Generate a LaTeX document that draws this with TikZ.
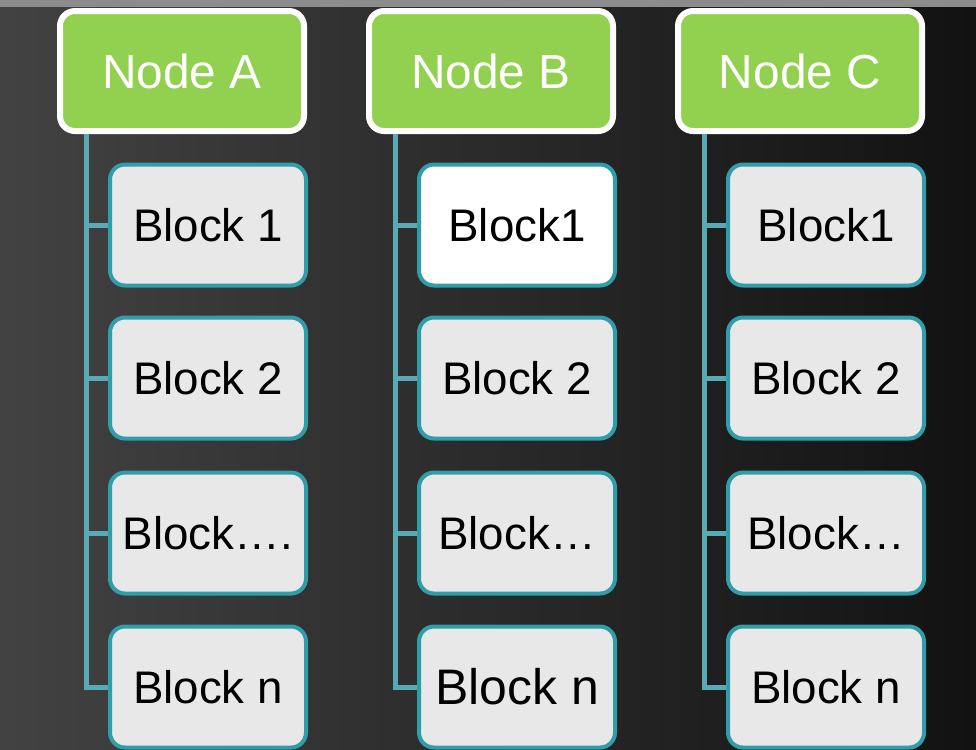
\documentclass[tikz,border=0pt]{standalone}
\usepackage{fontspec}
\setmainfont{Liberation Sans}
\usepackage{tikz}
\usepackage{xcolor}

\definecolor{leafgreen}{HTML}{92D050}
\definecolor{tealline}{HTML}{2F9DAA}
\definecolor{linkteal}{HTML}{5AAAB6}
\definecolor{blockgray}{HTML}{E8E8E8}

\tikzset{
    header/.style={draw=white, line width=0.06cm, fill=leafgreen, rounded corners=0.15cm,
        minimum width=2.44cm, minimum height=1.2cm, text=white,
        font=\fontsize{13.6}{16}\selectfont},
    block/.style={draw=tealline, line width=0.04cm, fill=blockgray, rounded corners=0.15cm,
        minimum width=1.96cm, minimum height=1.21cm, text=black,
        font=\fontsize{13}{15}\selectfont},
    link/.style={linkteal, line width=0.05cm}
}

\begin{document}
\begin{tikzpicture}
    % Backdrop
    \useasboundingbox (0,0) rectangle (9.76,-7.49);
    \fill [left color=black!74, right color=black!93] (0,0) rectangle (9.76,-7.49);
    \fill [black!45] (0,0) rectangle (9.76,-0.07);

    % Node A and its blocks
    \node [header] (A) at (1.82,-0.71) {Node A};
    \node [block] (A1) at (2.08,-2.25) {Block 1};
    \node [block] (A2) at (2.08,-3.78) {Block 2};
    \node [block] (A3) at (2.08,-5.33) {Block\dots.};
    \node [block] (A4) at (2.08,-6.87) {Block n};

    % Node B and its blocks
    \node [header] (B) at (4.91,-0.71) {Node B};
    \node [block,fill=white] (B1) at (5.17,-2.25) {Block1};
    \node [block] (B2) at (5.17,-3.78) {Block 2};
    \node [block] (B3) at (5.17,-5.33) {Block\dots};
    \node [block,font=\fontsize{14.2}{16}\selectfont] (B4) at (5.17,-6.87) {Block n};

    % Node C and its blocks
    \node [header] (C) at (8.00,-0.71) {Node C};
    \node [block] (C1) at (8.26,-2.25) {Block1};
    \node [block] (C2) at (8.26,-3.78) {Block 2};
    \node [block] (C3) at (8.26,-5.33) {Block\dots};
    \node [block] (C4) at (8.26,-6.87) {Block n};

    % Branches
    \draw [link] ([xshift=0.29cm]A.south west) |- (A1.west);
    \draw [link] ([xshift=0.29cm]A.south west) |- (A2.west);
    \draw [link] ([xshift=0.29cm]A.south west) |- (A3.west);
    \draw [link] ([xshift=0.29cm]A.south west) |- (A4.west);

    \draw [link] ([xshift=0.29cm]B.south west) |- (B1.west);
    \draw [link] ([xshift=0.29cm]B.south west) |- (B2.west);
    \draw [link] ([xshift=0.29cm]B.south west) |- (B3.west);
    \draw [link] ([xshift=0.29cm]B.south west) |- (B4.west);

    \draw [link] ([xshift=0.29cm]C.south west) |- (C1.west);
    \draw [link] ([xshift=0.29cm]C.south west) |- (C2.west);
    \draw [link] ([xshift=0.29cm]C.south west) |- (C3.west);
    \draw [link] ([xshift=0.29cm]C.south west) |- (C4.west);
\end{tikzpicture}
\end{document}
